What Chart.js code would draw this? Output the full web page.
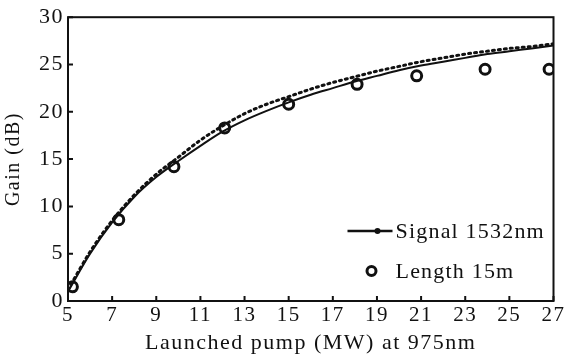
<!DOCTYPE html>
<html>
<head>
<meta charset="utf-8">
<script src="https://cdn.jsdelivr.net/npm/chart.js@4/dist/chart.umd.min.js"></script>
<style>
  html, body { margin: 0; padding: 0; background: #fff; }
  #wrap { width: 566px; height: 356px; }
</style>
</head>
<body>
<div id="wrap"><canvas id="gainChart" width="566" height="356"></canvas></div>
<script>
// values
const pumpX = [5, 6, 7, 8, 9, 10, 11, 12, 13, 14, 15, 16, 17, 18, 19, 20, 21, 22, 23, 24, 25, 26, 27];
const signalGain = [1.0, 5.0, 8.3, 11.0, 13.1, 14.8, 16.4, 17.9, 19.1, 20.1, 21.0, 21.8, 22.5, 23.2, 23.8, 24.4, 24.9, 25.3, 25.7, 26.1, 26.4, 26.7, 27.0];
const fitGain = [1.2, 5.2, 8.5, 11.2, 13.4, 15.2, 17.0, 18.5, 19.8, 20.8, 21.6, 22.4, 23.1, 23.7, 24.3, 24.8, 25.3, 25.7, 26.1, 26.4, 26.7, 26.9, 27.2];
const lengthX = [5.2, 7.3, 9.8, 12.1, 15.0, 18.1, 20.8, 23.9, 26.8];
const lengthGain = [1.5, 8.6, 14.2, 18.3, 20.8, 22.9, 23.8, 24.5, 24.5];
const xTicks = [5, 7, 9, 11, 13, 15, 17, 19, 21, 23, 25, 27];
const yTicks = [0, 5, 10, 15, 20, 25, 30];

const FONT = "'Liberation Serif', 'DejaVu Serif', serif";

const pts = (xs, ys) => xs.map((x, i) => ({ x: x, y: ys[i] }));

// the scanned print has wide letter spacing on all its text
const spacing = {
  id: "spacing",
  beforeDraw(chart) { chart.ctx.letterSpacing = "1.5px"; },
  beforeDatasetsDraw(chart) { chart.ctx.letterSpacing = "0px"; },
};

// inward ticks, frame and in-plot legend like the printed figure
const frame = {
  id: "frame",
  afterDraw(chart) {
    const { ctx, chartArea: a, scales } = chart;
    ctx.save();
    ctx.strokeStyle = "#111";
    ctx.lineWidth = 2;
    ctx.strokeRect(a.left, a.top, a.right - a.left, a.bottom - a.top);
    ctx.beginPath();
    scales.x.ticks.forEach((t) => {
      const px = scales.x.getPixelForValue(t.value);
      ctx.moveTo(px, a.bottom);
      ctx.lineTo(px, a.bottom - 5);
    });
    scales.y.ticks.forEach((t) => {
      const py = scales.y.getPixelForValue(t.value);
      ctx.moveTo(a.left, py);
      ctx.lineTo(a.left + 5, py);
    });
    ctx.stroke();

    // legend
    ctx.font = "22px " + FONT;
    ctx.letterSpacing = "1.2px";
    ctx.fillStyle = "#111";
    ctx.textBaseline = "middle";
    const lx = a.right - 206, ly1 = a.bottom - 70, ly2 = a.bottom - 30;
    ctx.lineWidth = 2.5;
    ctx.beginPath();
    ctx.moveTo(lx, ly1);
    ctx.lineTo(lx + 45, ly1);
    ctx.stroke();
    ctx.beginPath();
    ctx.arc(lx + 30, ly1, 3, 0, Math.PI * 2);
    ctx.fill();
    ctx.fillText(chart.data.datasets[0].label, lx + 48, ly1 + 1);
    ctx.lineWidth = 3;
    ctx.beginPath();
    ctx.arc(lx + 24, ly2, 4.5, 0, Math.PI * 2);
    ctx.stroke();
    ctx.fillText(chart.data.datasets[2].label, lx + 48, ly2 + 1);
    ctx.restore();
  },
};

new Chart(document.getElementById("gainChart"), {
  type: "scatter",
  data: {
    datasets: [
      {
        label: "Signal 1532nm",
        data: pts(pumpX, signalGain),
        showLine: true,
        borderColor: "#111",
        borderWidth: 2,
        pointRadius: 0,
        cubicInterpolationMode: "monotone",
      },
      {
        label: "fit",
        data: pts(pumpX, fitGain),
        showLine: true,
        borderColor: "#111",
        borderWidth: 3,
        borderDash: [2, 4],
        borderCapStyle: "round",
        pointRadius: 0,
        cubicInterpolationMode: "monotone",
      },
      {
        label: "Length 15m",
        data: pts(lengthX, lengthGain),
        pointRadius: 5,
        pointBorderWidth: 3,
        pointBorderColor: "#111",
        pointBackgroundColor: "#fff",
      },
    ],
  },
  options: {
    responsive: false,
    animation: false,
    layout: { padding: { top: 15, right: 8, left: 0, bottom: 0 } },
    plugins: {
      legend: { display: false },
      tooltip: { enabled: false },
    },
    scales: {
      x: {
        type: "linear",
        min: 5,
        max: 27,
        afterBuildTicks: (s) => { s.ticks = xTicks.map((v) => ({ value: v })); },
        grid: { display: false, drawTicks: false },
        border: { display: false },
        ticks: { color: "#111", font: { family: FONT, size: 21 }, padding: 2, maxRotation: 0 },
        title: {
          display: true,
          text: "Launched pump (MW) at 975nm",
          color: "#111",
          font: { family: FONT, size: 22 },
          padding: { top: 0, bottom: 0 },
        },
        afterFit: (s) => { s.height = 55; },
      },
      y: {
        min: 0,
        max: 30,
        afterBuildTicks: (s) => { s.ticks = yTicks.map((v) => ({ value: v })); },
        grid: { display: false, drawTicks: false },
        border: { display: false },
        ticks: { color: "#111", font: { family: FONT, size: 22 }, padding: 4 },
        title: {
          display: true,
          text: "Gain (dB)",
          color: "#111",
          font: { family: FONT, size: 20 },
          padding: { top: 2, bottom: 0 },
        },
        afterFit: (s) => { s.width = 68; },
      },
    },
  },
  plugins: [spacing, frame],
});
</script>
</body>
</html>
